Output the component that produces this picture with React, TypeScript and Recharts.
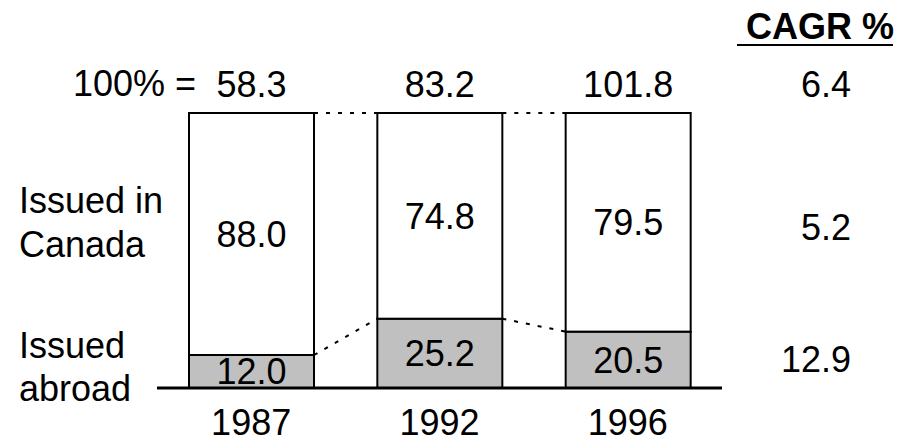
import React from "react";
import { BarChart, Bar, XAxis, YAxis, LabelList, Customized } from "recharts";

// share of issues by place (per cent of total)
const years = ["1987", "1992", "1996"];
const abroadShare = [12.0, 25.2, 20.5];
const canadaShare = [88.0, 74.8, 79.5];
const totals = [58.3, 83.2, 101.8];

// CAGR column: total, issued in Canada, issued abroad
const cagrValues = [6.4, 5.2, 12.9];

const FONT = "'Liberation Sans', Arial, Helvetica, sans-serif";
const W = 920;
const H = 443;
const MARGIN = { top: 113, right: 198, bottom: 0, left: 157 };
const AXIS_H = 55;

const data = years.map((year, i) => ({
  year,
  abroad: abroadShare[i],
  canada: canadaShare[i],
  total: totals[i],
}));

const order = ["abroad", "canada"];
const band = (W - MARGIN.left - MARGIN.right) / years.length;

// top of the stack up to (and including) a series at a given category
const stackTop = (key: string, i: number) => {
  let sum = 0;
  for (const k of order) {
    sum += (data[i] as any)[k];
    if (k === key) break;
  }
  return sum;
};

const makeSegment = (key: string, fill: string) => (props: any) => {
  const { x, y, width, height, index } = props;
  const value = (data[index] as any)[key];
  const pxPerUnit = value ? height / value : 0;
  const hasNext = index < data.length - 1;
  const yNext = hasNext
    ? y + (stackTop(key, index) - stackTop(key, index + 1)) * pxPerUnit
    : y;
  return (
    <g>
      <rect x={x} y={y} width={width} height={height} fill={fill} stroke="#000" strokeWidth={2} />
      {hasNext && (
        <line
          x1={x + width}
          y1={y}
          x2={x + band}
          y2={yNext}
          stroke="#000"
          strokeWidth={2}
          strokeDasharray="4 8"
        />
      )}
    </g>
  );
};

const fmt = (v: any) => Number(v).toFixed(1);

const Extras = () => {
  const txt = { fontFamily: FONT, fontSize: 36, fill: "#000" };
  return (
    <g>
      <text x={196} y={96} textAnchor="end" style={txt}>
        100% =
      </text>
      <text x={19} y={213} style={txt}>Issued in</text>
      <text x={19} y={257} style={txt}>Canada</text>
      <text x={19} y={358} style={txt}>Issued</text>
      <text x={19} y={401} style={txt}>abroad</text>

      <text x={894} y={39} textAnchor="end" style={{ ...txt, fontWeight: "bold" }}>
        CAGR %
      </text>
      <line x1={737} y1={45} x2={893} y2={45} stroke="#000" strokeWidth={2} />
      <text x={851} y={97} textAnchor="end" style={txt}>{cagrValues[0]}</text>
      <text x={851} y={240} textAnchor="end" style={txt}>{cagrValues[1]}</text>
      <text x={851} y={372} textAnchor="end" style={txt}>{cagrValues[2]}</text>
    </g>
  );
};

export default function App() {
  return (
    <div style={{ position: "absolute", left: 0, top: 0, width: W, height: H, background: "#fff" }}>
      <BarChart width={W} height={H} data={data} margin={MARGIN}>
        <XAxis
          dataKey="year"
          height={AXIS_H}
          axisLine={{ stroke: "#000", strokeWidth: 3 }}
          tickLine={false}
          tickSize={0}
          tickMargin={21}
          tick={{ fill: "#000", fontSize: 36, fontFamily: FONT }}
        />
        <YAxis hide domain={[0, 100]} />
        <Bar
          dataKey="abroad"
          stackId="s"
          barSize={125}
          shape={makeSegment("abroad", "#c0c0c0")}
          isAnimationActive={false}
        >
          <LabelList
            dataKey="abroad"
            position="center"
            formatter={fmt}
            style={{ fontFamily: FONT, fontSize: 36, fill: "#000" }}
          />
        </Bar>
        <Bar
          dataKey="canada"
          stackId="s"
          barSize={125}
          shape={makeSegment("canada", "#fff")}
          isAnimationActive={false}
        >
          <LabelList
            dataKey="canada"
            position="center"
            formatter={fmt}
            style={{ fontFamily: FONT, fontSize: 36, fill: "#000" }}
          />
          <LabelList
            dataKey="total"
            position="top"
            offset={16}
            formatter={fmt}
            style={{ fontFamily: FONT, fontSize: 36, fill: "#000" }}
          />
        </Bar>
        <Customized component={<Extras />} />
      </BarChart>
    </div>
  );
}
